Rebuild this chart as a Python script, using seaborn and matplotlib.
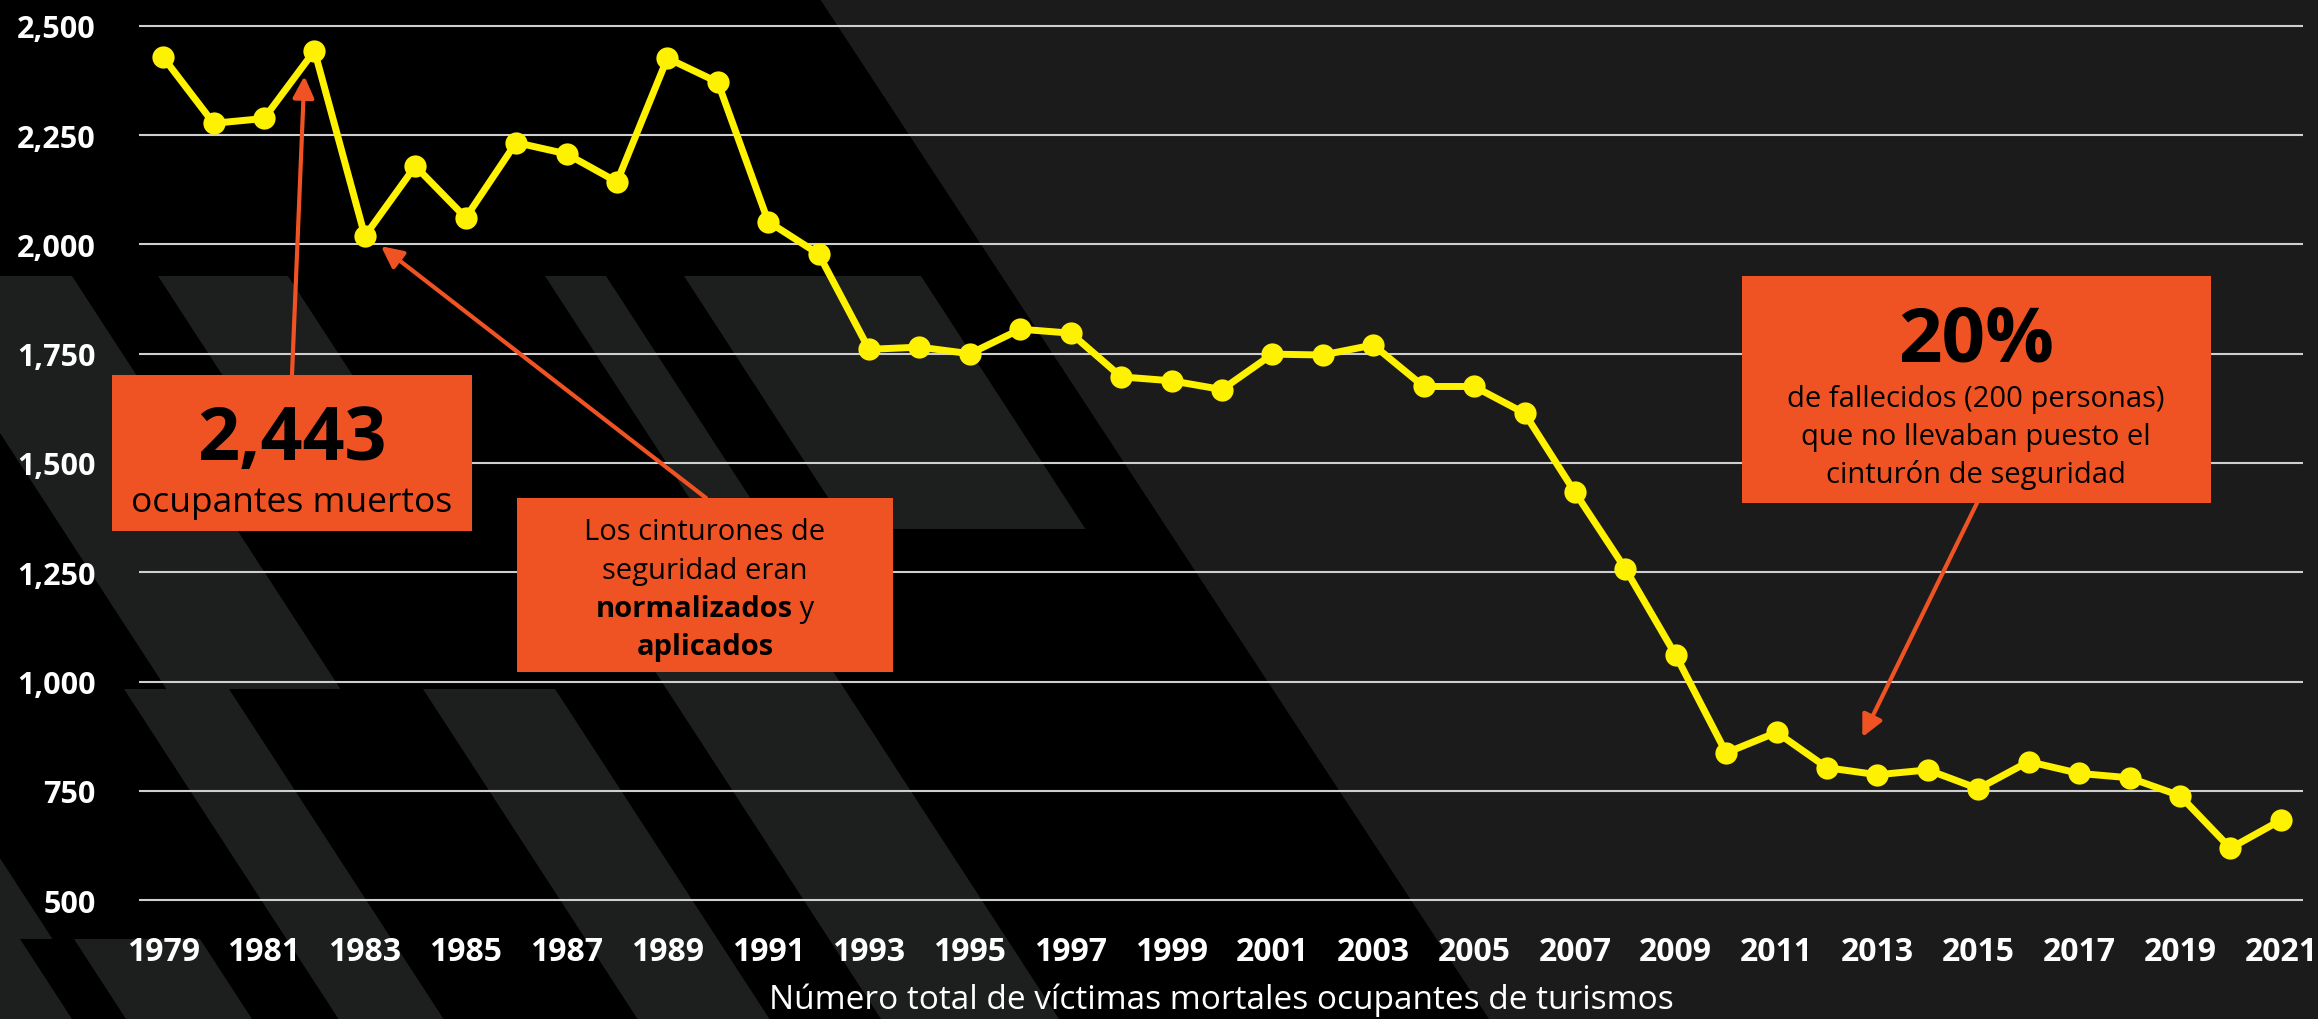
import matplotlib
matplotlib.use("Agg")
import matplotlib.pyplot as plt
import seaborn as sns
import pandas as pd
from matplotlib.patches import Polygon, Rectangle

# ---------------- data ----------------
years = [1979, 1980, 1981, 1982, 1983, 1984, 1985, 1986, 1987, 1988,
         1989, 1990, 1991, 1992, 1993, 1994, 1995, 1996, 1997, 1998,
         1999, 2000, 2001, 2002, 2003, 2004, 2005, 2006, 2007, 2008,
         2009, 2010, 2011, 2012, 2013, 2014, 2015, 2016, 2017, 2018,
         2019, 2020, 2021]
deaths = [2428, 2277, 2288, 2443, 2019, 2179, 2061, 2233, 2207, 2143,
          2426, 2371, 2052, 1978, 1760, 1765, 1750, 1806, 1797, 1697,
          1688, 1668, 1749, 1747, 1770, 1675, 1675, 1614, 1433, 1258,
          1060, 837, 884, 803, 787, 798, 755, 817, 790, 780,
          739, 619, 683]
y_ticks = [500, 750, 1000, 1250, 1500, 1750, 2000, 2250, 2500]
x_ticks = years[::2]
x_label = "Número total de víctimas mortales ocupantes de turismos"
box1_sub = "ocupantes muertos"
box2_lines = ["Los cinturones de", "seguridad eran"]
box2_bold3, box2_reg3, box2_bold4 = "normalizados", " y", "aplicados"
box3_big = "20%"
box3_lines = ["de fallecidos (200 personas)", "que no llevaban puesto el",
              "cinturón de seguridad"]

# ---------------- style ----------------
W, H = 2318, 1020
sns.set_theme(style="dark")
plt.rcParams["font.family"] = ["Open Sans", "DejaVu Sans"]
ORANGE = "#F05323"
YELLOW = "#FFF200"
STRIPE = "#1d1e1e"
BIGREG = "#1b1b1b"

fig = plt.figure(figsize=(W / 100, H / 100), dpi=100, facecolor="black")

# background decoration (pixel coords, y downwards)
bg = fig.add_axes([0, 0, 1, 1], zorder=0)
bg.set_xlim(0, W)
bg.set_ylim(H, 0)
bg.axis("off")
bg.set_facecolor("black")
bg.add_patch(Rectangle((0, 0), W, H, color="black", zorder=0))
bg.add_patch(Polygon([(820, 0), (W, 0), (W, H), (1489, H)], closed=True,
                     color=BIGREG, lw=0, zorder=1))


def stripe(y0, y1, xl, xr, k=0.65):
    d = k * (y1 - y0)
    return Polygon([(xl, y0), (xr, y0), (xr + d, y1), (xl + d, y1)],
                   closed=True, color=STRIPE, lw=0, zorder=2)


for s in [(277, 690, -102, 72), (430, 940, -450, -279), (277, 530, 158, 288),
          (277, 530, 545, 606), (277, 530, 684, 921), (500, 1020, 543, 721),
          (690, 1020, 124, 229), (690, 1020, 423, 555),
          (940, 1020, 74, 200), (940, 1020, -120, 20)]:
    bg.add_patch(stripe(*s))

# main chart axes
px_per_unit = 109.3 / 250
ylo, yhi = 470, 2530
top_px = 26.8 - (yhi - 2500) * px_per_unit
bot_px = 26.8 + (2500 - ylo) * px_per_unit
ax_left, ax_right = 139, 2303
ax = fig.add_axes([ax_left / W, (H - bot_px) / H, (ax_right - ax_left) / W,
                   (bot_px - top_px) / H], zorder=1)
ax.set_facecolor("none")

df = pd.DataFrame({"year": years, "deaths": deaths})
sns.lineplot(data=df, x="year", y="deaths", ax=ax, color=YELLOW, linewidth=5,
             marker="o", markersize=16, markeredgewidth=0, zorder=3,
             clip_on=False)

ax.set_xlim(1978.52, 2021.44)
ax.set_ylim(ylo, yhi)
ax.set_yticks(y_ticks)
ax.set_yticklabels([f"{v:,}" for v in y_ticks])
ax.set_xticks(x_ticks)
ax.set_xticklabels([str(v) for v in x_ticks])
ax.tick_params(axis="both", length=0, colors="white")
ax.tick_params(axis="y", pad=31, labelsize=22)
ax.tick_params(axis="x", pad=(938 - bot_px - 1.5) / 1.389, labelsize=23)
for lab in ax.get_xticklabels() + ax.get_yticklabels():
    lab.set_fontweight("bold")
ax.grid(False)
ax.yaxis.grid(True, color="#cfcfcf", linewidth=1.5)
ax.set_axisbelow(True)
for sp in ax.spines.values():
    sp.set_visible(False)
ax.set_ylabel("")
ax.set_xlabel(x_label, color="white", fontsize=24)
ax.xaxis.set_label_coords(0.5, -(984 - bot_px) / (bot_px - top_px))

# overlay for boxes (pixel coords, y downwards)
ov = fig.add_axes([0, 0, 1, 1], zorder=5)
ov.set_xlim(0, W)
ov.set_ylim(H, 0)
ov.axis("off")
ov.set_facecolor("none")

# box 1
ov.add_patch(Rectangle((112, 376), 360, 156, color=ORANGE, lw=0))
ov.text(292, 460, f"{deaths[3]:,}", fontsize=53, fontweight="bold",
        color="black", ha="center", va="baseline")
ov.text(292, 512, box1_sub, fontsize=25.5, color="black",
        ha="center", va="baseline")

# box 2
FS = 21
ov.add_patch(Rectangle((517, 499), 376, 174, color=ORANGE, lw=0))
cx2 = 705
ov.text(cx2, 540, box2_lines[0], fontsize=FS, color="black", ha="center",
        va="baseline")
ov.text(cx2, 579, box2_lines[1], fontsize=FS, color="black", ha="center",
        va="baseline")
t1 = ov.text(0, 617, box2_bold3, fontsize=FS, fontweight="bold",
             color="black", ha="left", va="baseline")
t2 = ov.text(0, 617, box2_reg3, fontsize=FS, color="black", ha="left",
             va="baseline")
r = fig.canvas.get_renderer()
w1 = t1.get_window_extent(r).width
w2 = t2.get_window_extent(r).width
xs = cx2 - (w1 + w2) / 2
t1.set_x(xs)
t2.set_x(xs + w1)
ov.text(cx2, 655, box2_bold4, fontsize=FS, fontweight="bold", color="black",
        ha="center", va="baseline")

# box 3
ov.add_patch(Rectangle((1742, 277), 469, 227, color=ORANGE, lw=0))
cx3 = 1976
ov.text(cx3, 362, box3_big, fontsize=55, fontweight="bold", color="black",
        ha="center", va="baseline")
for i, line in enumerate(box3_lines):
    ov.text(cx3, 407 + 38 * i, line, fontsize=FS, color="black",
            ha="center", va="baseline")

# arrows
aprops = dict(arrowstyle="-|>,head_length=0.65,head_width=0.32",
              color=ORANGE, lw=3, shrinkA=0, shrinkB=0, mutation_scale=20)
ax.annotate("", xy=(1981.8, 2385), xycoords="data", xytext=(292, 376),
            textcoords=ov.transData, arrowprops=aprops, zorder=4)
ax.annotate("", xy=(1983.32, 1996), xycoords="data", xytext=(706, 499),
            textcoords=ov.transData, arrowprops=aprops, zorder=4)
ax.annotate("", xy=(2012.7, 873), xycoords="data", xytext=(1977, 504),
            textcoords=ov.transData, arrowprops=aprops, zorder=4)

fig.savefig("out.png", dpi=100, facecolor="black")
